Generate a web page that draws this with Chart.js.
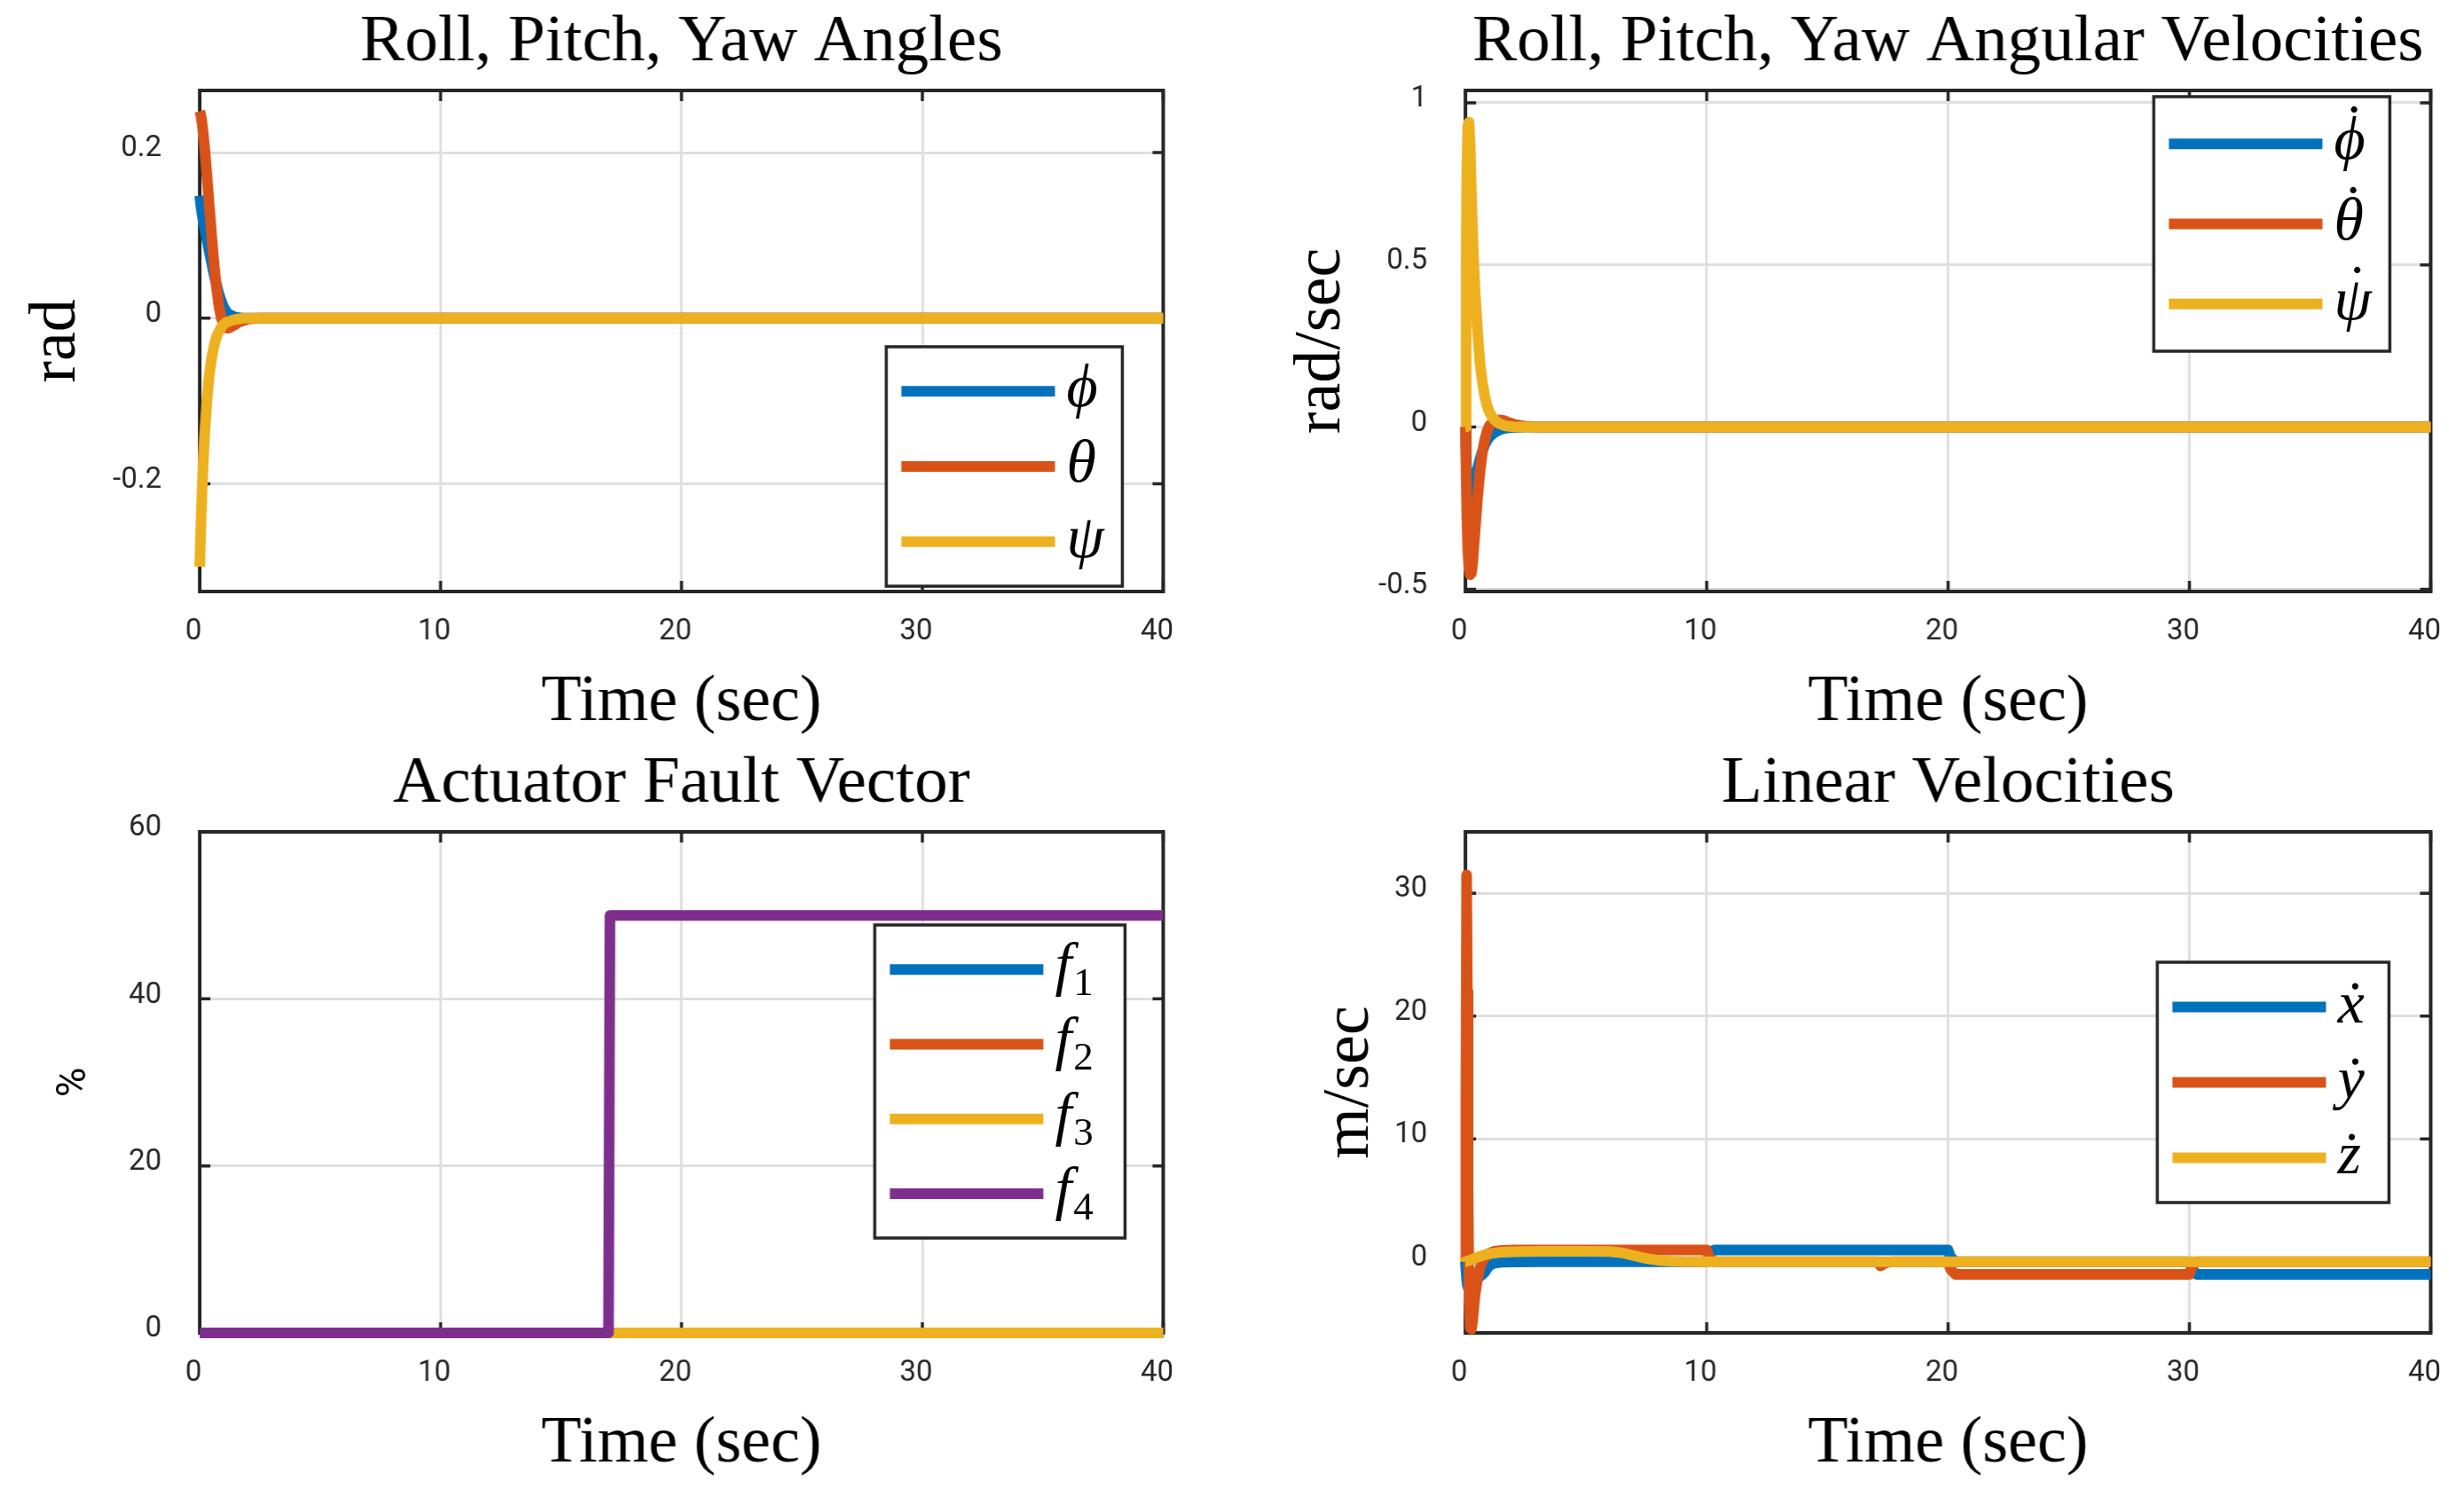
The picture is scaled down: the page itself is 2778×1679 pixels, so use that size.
<!DOCTYPE html>
<html>
<head>
<meta charset="utf-8">
<script src="https://cdn.jsdelivr.net/npm/chart.js@4.4.1/dist/chart.umd.min.js"></script>
<style>
html, body { margin: 0; padding: 0; background: #ffffff; width: 2778px; height: 1679px; overflow: hidden; }
.w { position: absolute; left: 0; top: 0; }
canvas { display: block; }
</style>
</head>
<body>
<div class="w" id="w1"></div>
<div class="w" id="w2"></div>
<div class="w" id="w3"></div>
<div class="w" id="w4"></div>
<script>
// ---------------- DATA ----------------
const xTicks = [0, 10, 20, 30, 40];

// Panel 1: Roll, Pitch, Yaw Angles (rad)
const t1 = [0, 0.05, 0.1, 0.15, 0.2, 0.3, 0.4, 0.5, 0.6, 0.7, 0.8, 0.9, 1.0, 1.1, 1.2, 1.4, 1.6, 1.8, 2.0, 2.5, 3, 5, 10, 20, 30, 40];
const phi   = [0.148, 0.135, 0.125, 0.117, 0.11, 0.095, 0.08, 0.066, 0.052, 0.04, 0.029, 0.02, 0.013, 0.008, 0.005, 0.002, 0.0005, 0, 0, 0, 0, 0, 0, 0, 0, 0];
const theta = [0.25, 0.245, 0.235, 0.222, 0.207, 0.172, 0.135, 0.098, 0.064, 0.036, 0.014, 0.0, -0.008, -0.012, -0.012, -0.009, -0.005, -0.003, -0.001, 0, 0, 0, 0, 0, 0, 0];
const psi   = [-0.3, -0.249, -0.207, -0.172, -0.143, -0.099, -0.068, -0.047, -0.033, -0.022, -0.016, -0.011, -0.007, -0.005, -0.004, -0.002, -0.001, 0, 0, 0, 0, 0, 0, 0, 0, 0];
const yTicks1 = [-0.2, 0, 0.2];

// Panel 2: Roll, Pitch, Yaw Angular Velocities (rad/sec)
const t2 = [0, 0.03, 0.06, 0.1, 0.15, 0.2, 0.25, 0.3, 0.35, 0.4, 0.5, 0.6, 0.7, 0.8, 0.9, 1.0, 1.2, 1.4, 1.6, 1.8, 2.0, 2.5, 3, 5, 10, 20, 30, 40];
const phiDot   = [0, -0.08, -0.15, -0.21, -0.24, -0.24, -0.23, -0.21, -0.19, -0.17, -0.13, -0.1, -0.075, -0.055, -0.04, -0.03, -0.017, -0.009, -0.004, -0.002, -0.001, 0, 0, 0, 0, 0, 0, 0];
const thetaDot = [0, -0.15, -0.28, -0.38, -0.44, -0.455, -0.45, -0.42, -0.37, -0.32, -0.22, -0.14, -0.08, -0.04, -0.012, 0.005, 0.018, 0.022, 0.02, 0.014, 0.009, 0.002, 0, 0, 0, 0, 0, 0];
const psiDot   = [0, 0.5, 0.8, 0.93, 0.94, 0.86, 0.72, 0.6, 0.5, 0.42, 0.3, 0.2, 0.14, 0.095, 0.065, 0.045, 0.022, 0.011, 0.005, 0.002, 0.001, 0, 0, 0, 0, 0, 0, 0];
const yTicks2 = [-0.5, 0, 0.5, 1];

// Panel 3: Actuator Fault Vector (%)
const t3 = [0, 16.97, 17.03, 40];
const f1 = [0, 0, 0, 0];
const f2 = [0, 0, 0, 0];
const f3 = [0, 0, 0, 0];
const f4 = [0, 0, 50, 50];
const yTicks3 = [0, 20, 40, 60];

// Panel 4: Linear Velocities (m/sec)
const t4 = [0, 0.02, 0.05, 0.08, 0.11, 0.15, 0.2, 0.25, 0.3, 0.35,
            0.4, 0.5, 0.6, 0.7, 0.8, 0.9, 1.0, 1.2, 1.5, 2,
            3, 4, 5, 6, 6.5, 7, 7.5, 8, 8.5, 9,
            10, 10.1, 10.3, 15, 17.1, 17.2, 17.4, 17.7, 20, 20.1,
            20.3, 25, 30, 30.1, 30.3, 35, 40];
const xDot = [0, -0.6, -1.4, -1.9, -2.1, -2.1, -2.0, -1.9, -1.8, -1.7,
              -1.6, -1.4, -1.2, -1.05, -0.85, -0.55, -0.3, -0.12, -0.05, -0.02,
              0, 0, 0, 0, 0, 0, 0, 0, 0, 0,
              0, 0.6, 0.95, 0.95, 0.95, 0.95, 0.95, 0.95, 0.95, 0.4,
              0, 0, 0, -0.6, -1.04, -1.04, -1.04];
const yDot = [0, 14, 31.5, 22, 6, -3, -5.4, -5.5, -4.8, -3.7,
              -2.7, -1.4, -0.5, 0, 0.35, 0.55, 0.7, 0.85, 0.92, 0.95,
              0.95, 0.95, 0.95, 0.95, 0.95, 0.95, 0.95, 0.95, 0.95, 0.95,
              0.95, 0.4, 0, 0, 0, -0.35, -0.1, 0, 0, -0.6,
              -1.04, -1.04, -1.04, -0.4, 0, 0, 0];
const zDot = [0, 0.01, 0.03, 0.05, 0.07, 0.09, 0.12, 0.16, 0.2, 0.24,
              0.28, 0.36, 0.43, 0.5, 0.56, 0.61, 0.65, 0.71, 0.77, 0.81,
              0.84, 0.85, 0.85, 0.83, 0.72, 0.48, 0.26, 0.11, 0.04, 0.01,
              0, 0, 0, 0, 0, 0, 0, 0, 0, 0,
              0, 0, 0, 0, 0, 0, 0];
const yTicks4 = [0, 10, 20, 30];

// ---------------- STYLE ----------------
const SERIF = '"Liberation Serif", "DejaVu Serif", serif';
const SANS = 'Roboto, "DejaVu Sans", sans-serif';
const C_BLUE = '#0072BD', C_ORANGE = '#D95319', C_YELLOW = '#EDB120', C_PURPLE = '#7E2F8E';
const AX = '#262626';

function lineDs(t, v, label, color, order) {
  return {
    label: label,
    order: order,
    data: t.map((x, i) => ({ x: x, y: v[i] })),
    borderColor: color,
    backgroundColor: color,
    borderWidth: 12,
    pointRadius: 0,
    pointHoverRadius: 0,
    fill: false,
    tension: 0,
    borderJoinStyle: 'round',
    borderCapStyle: 'butt',
    clip: false
  };
}

// inward tick marks and axes box (drawn under the data lines)
const axesBox = {
  id: 'axesBox',
  beforeDatasetsDraw(chart) {
    const ctx = chart.ctx, ca = chart.chartArea, xs = chart.scales.x, ys = chart.scales.y;
    ctx.save();
    ctx.strokeStyle = AX;
    ctx.lineWidth = 3.5;
    ctx.beginPath();
    xs.ticks.forEach(tk => {
      const px = xs.getPixelForValue(tk.value);
      ctx.moveTo(px, ca.bottom); ctx.lineTo(px, ca.bottom - 12);
      ctx.moveTo(px, ca.top); ctx.lineTo(px, ca.top + 12);
    });
    ys.ticks.forEach(tk => {
      const py = ys.getPixelForValue(tk.value);
      ctx.moveTo(ca.left, py); ctx.lineTo(ca.left + 12, py);
      ctx.moveTo(ca.right, py); ctx.lineTo(ca.right - 12, py);
    });
    ctx.stroke();
    ctx.lineWidth = 4;
    ctx.strokeRect(ca.left, ca.top, ca.right - ca.left, ca.bottom - ca.top);
    ctx.restore();
  }
};

const SUB = { '₀': '0', '₁': '1', '₂': '2', '₃': '3', '₄': '4', '₅': '5', '₆': '6', '₇': '7', '₈': '8', '₉': '9' };
const DOT = '\u0307';

// boxed legend inside the plot area
const boxLegend = {
  id: 'boxLegend',
  afterDatasetsDraw(chart, args, opts) {
    if (!opts || !opts.box) return;
    const ctx = chart.ctx, ca = chart.chartArea, b = opts.box;
    const x = ca.right - b.right - b.w;
    const y = (b.top !== undefined) ? ca.top + b.top : ca.bottom - b.bottom - b.h;
    ctx.save();
    ctx.fillStyle = '#ffffff';
    ctx.fillRect(x, y, b.w, b.h);
    ctx.lineWidth = 3.5;
    ctx.strokeStyle = AX;
    ctx.strokeRect(x, y, b.w, b.h);
    const ds = chart.data.datasets, n = ds.length, pad = 8;
    const rowH = (b.h - 2 * pad) / n;
    ds.forEach((d, i) => {
      const cy = y + pad + rowH * (i + 0.5);
      ctx.beginPath();
      ctx.lineWidth = 12;
      ctx.lineCap = 'butt';
      ctx.strokeStyle = d.borderColor;
      ctx.moveTo(x + 17, cy);
      ctx.lineTo(x + 190, cy);
      ctx.stroke();
      let main = '', sub = '', dotted = false;
      for (const ch of d.label) {
        if (SUB[ch]) sub += SUB[ch];
        else if (ch === DOT) dotted = true;
        else main += ch;
      }
      ctx.fillStyle = '#000000';
      ctx.textAlign = 'left';
      ctx.textBaseline = 'alphabetic';
      ctx.font = 'italic 68px ' + SERIF;
      const tx = x + 203, by = cy + 17;
      ctx.fillText(main, tx, by);
      const w = ctx.measureText(main).width;
      if (dotted) {
        ctx.font = '68px ' + SERIF;
        ctx.textAlign = 'center';
        ctx.fillText('\u02D9', tx + w / 2 + 5, by - 14);
        ctx.textAlign = 'left';
      }
      if (sub) {
        ctx.font = '45px ' + SERIF;
        ctx.fillText(sub, tx + w + 2, by + 12);
      }
    });
    ctx.restore();
  }
};

function makeConfig(p) {
  return {
    type: 'line',
    data: { datasets: p.datasets() },
    plugins: [axesBox, boxLegend],
    options: {
      responsive: false,
      maintainAspectRatio: false,
      animation: false,
      events: [],
      layout: { padding: { left: 0, right: 30, top: 10, bottom: 0 } },
      plugins: {
        legend: { display: false },
        tooltip: { enabled: false },
        title: {
          display: true,
          fullSize: false,
          text: p.title,
          color: '#000000',
          font: { family: SERIF, size: 75, weight: 'normal', lineHeight: 1 },
          padding: { top: 0, bottom: 16 }
        },
        boxLegend: { box: p.legend }
      },
      scales: {
        x: {
          type: 'linear',
          min: 0, max: 40,
          afterBuildTicks: s => { s.ticks = xTicks.map(v => ({ value: v })); },
          afterFit: s => { s.height = 170; },
          grid: { color: '#dfdfdf', lineWidth: 3, drawTicks: false },
          border: { display: false },
          ticks: {
            font: { family: SANS, size: 33 }, color: AX, padding: 26,
            maxRotation: 0, autoSkip: false, labelOffset: -7,
            callback: v => String(v)
          },
          title: {
            display: true, text: 'Time (sec)', color: '#000000',
            font: { family: SERIF, size: 74, weight: 'normal', lineHeight: 1 },
            padding: { top: 0, bottom: 7 }
          }
        },
        y: {
          type: 'linear',
          min: p.ymin, max: p.ymax,
          afterBuildTicks: s => { s.ticks = p.yTicks.map(v => ({ value: v })); },
          afterFit: s => { s.width = 230; },
          grid: { color: '#dfdfdf', lineWidth: 3, drawTicks: false },
          border: { display: false },
          ticks: {
            font: { family: SANS, size: 33 }, color: AX, padding: 43,
            autoSkip: false, labelOffset: -4,
            callback: v => String(v)
          },
          title: {
            display: true, text: p.ylabel, color: '#000000',
            font: p.ylabelFont,
            padding: { top: p.yTitlePad, bottom: 0 }
          }
        }
      }
    }
  };
}

const panels = [
  {
    wrap: 'w1', target: { l: 225, t: 102, r: 1311, b: 667 },
    title: 'Roll, Pitch, Yaw Angles', ylabel: 'rad',
    ylabelFont: { family: SERIF, size: 74, weight: 'normal', lineHeight: 1 }, yTitlePad: 33,
    ymin: -0.33, ymax: 0.275, yTicks: yTicks1,
    legend: { right: 46, bottom: 6, w: 266, h: 270 },
    datasets: () => [lineDs(t1, phi, 'ϕ', C_BLUE, 3), lineDs(t1, theta, 'θ', C_ORANGE, 2), lineDs(t1, psi, 'ψ', C_YELLOW, 1)]
  },
  {
    wrap: 'w2', target: { l: 1652, t: 102, r: 2740, b: 667 },
    title: 'Roll, Pitch, Yaw Angular Velocities', ylabel: 'rad/sec',
    ylabelFont: { family: SERIF, size: 74, weight: 'normal', lineHeight: 1 }, yTitlePad: 32,
    ymin: -0.507, ymax: 1.038, yTicks: yTicks2,
    legend: { right: 46, top: 7, w: 266, h: 287 },
    datasets: () => [lineDs(t2, phiDot, 'ϕ\u0307', C_BLUE, 3), lineDs(t2, thetaDot, 'θ\u0307', C_ORANGE, 2), lineDs(t2, psiDot, 'ψ\u0307', C_YELLOW, 1)]
  },
  {
    wrap: 'w3', target: { l: 225, t: 938, r: 1311, b: 1503 },
    title: 'Actuator Fault Vector', ylabel: '%',
    ylabelFont: { family: SANS, size: 46, weight: 'normal', lineHeight: 1 }, yTitlePad: 66,
    ymin: 0, ymax: 60, yTicks: yTicks3,
    legend: { right: 43, top: 105, w: 282, h: 353 },
    datasets: () => [lineDs(t3, f1, 'f₁', C_BLUE, 4), lineDs(t3, f2, 'f₂', C_ORANGE, 3), lineDs(t3, f3, 'f₃', C_YELLOW, 2), lineDs(t3, f4, 'f₄', C_PURPLE, 1)]
  },
  {
    wrap: 'w4', target: { l: 1652, t: 938, r: 2740, b: 1503 },
    title: 'Linear Velocities', ylabel: 'm/sec',
    ylabelFont: { family: SERIF, size: 74, weight: 'normal', lineHeight: 1 }, yTitlePad: 64,
    ymin: -5.8, ymax: 35, yTicks: yTicks4,
    legend: { right: 47, top: 147, w: 261, h: 271 },
    datasets: () => [lineDs(t4, xDot, 'ẋ', C_BLUE, 3), lineDs(t4, yDot, 'ẏ', C_ORANGE, 2), lineDs(t4, zDot, 'ż', C_YELLOW, 1)]
  }
];

function build(p) {
  const wrap = document.getElementById(p.wrap);
  let W = 1350, H = 840;
  for (let pass = 0; pass < 2; pass++) {
    wrap.innerHTML = '';
    const canvas = document.createElement('canvas');
    canvas.width = W; canvas.height = H;
    canvas.style.width = W + 'px'; canvas.style.height = H + 'px';
    wrap.appendChild(canvas);
    const chart = new Chart(canvas, makeConfig(p));
    const ca = chart.chartArea;
    if (pass === 0) {
      W += (p.target.r - p.target.l) - (ca.right - ca.left);
      H += (p.target.b - p.target.t) - (ca.bottom - ca.top);
      chart.destroy();
    } else {
      wrap.style.left = (p.target.l - ca.left) + 'px';
      wrap.style.top = (p.target.t - ca.top) + 'px';
    }
  }
}

panels.forEach(build);
</script>
</body>
</html>
